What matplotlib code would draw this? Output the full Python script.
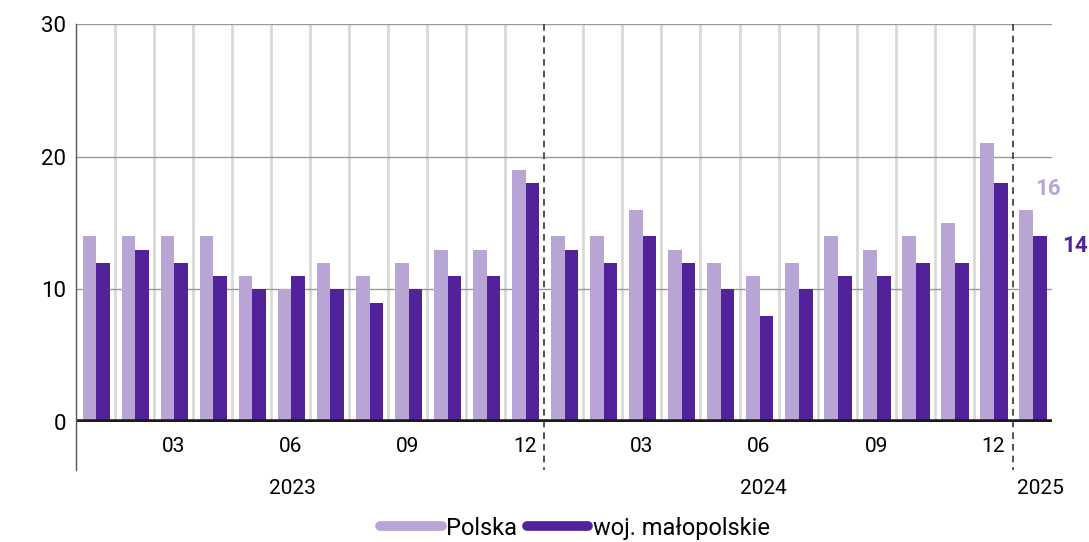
import matplotlib
matplotlib.use("Agg")
import matplotlib.pyplot as plt
from matplotlib.lines import Line2D
import numpy as np

plt.rcParams['font.family'] = ['Roboto', 'DejaVu Sans']

# monthly values, Jan 2023 .. Jan 2025
polska = [14, 14, 14, 14, 11, 10, 12, 11, 12, 13, 13, 19,
          14, 14, 16, 13, 12, 11, 12, 14, 13, 14, 15, 21,
          16]
malopolskie = [12, 13, 12, 11, 10, 11, 10, 9, 10, 11, 11, 18,
               13, 12, 14, 12, 10, 8, 10, 11, 11, 12, 12, 18,
               14]
month_labels = ['', '', '03', '', '', '06', '', '', '09', '', '', '12',
                '', '', '03', '', '', '06', '', '', '09', '', '', '12',
                '']
years = ['2023', '2024', '2025']
year_pos = [5.05, 17.1, 24.2]
series_names = ['Polska', 'woj. małopolskie']

c_light = '#b8a5d6'
c_dark = '#52229a'

fig = plt.figure(figsize=(10.89, 5.42), dpi=100)
ax = fig.add_axes([0.0698, 0.2214, 0.896, 0.7343])

x = np.arange(len(polska))
w = 0.35
ax.bar(x - w / 2 + 0.02, polska, w, color=c_light, zorder=3)
ax.bar(x + w / 2 + 0.02, malopolskie, w, color=c_dark, zorder=3)

ax.set_xlim(-0.5, len(polska) - 0.5)
ax.set_ylim(0, 30)

# light vertical separators between months
for b in np.arange(0.5, len(polska) - 0.5):
    if b in (11.5, 23.5):
        continue
    ax.axvline(b, color='#d9d9d9', lw=2, zorder=1)

# horizontal gridlines
for v in (10, 20, 30):
    ax.axhline(v, color='#9a9a9a', lw=1, zorder=2)
ax.axhline(0, color='#1a1a1a', lw=4, zorder=4)

# year separators, reaching below the axis
for b in (11.5, 23.5):
    ax.plot([b, b], [30, -3.6], color='#333333', lw=1.2, ls=(0, (4, 3)),
            clip_on=False, zorder=5)
ax.plot([-0.5, -0.5], [30, -3.6], color='#555555', lw=1, clip_on=False, zorder=5)

for s in ax.spines.values():
    s.set_visible(False)

ax.set_yticks([0, 10, 20, 30])
ax.tick_params(axis='y', length=0, labelsize=16, pad=7)
ax.set_xticks(x)
ax.set_xticklabels(month_labels)
ax.tick_params(axis='x', length=0, labelsize=15, pad=11)

for lab, p in zip(years, year_pos):
    ax.text(p, -5.0, lab, ha='center', va='center', fontsize=15,
            transform=ax.transData, clip_on=False)

# last-value labels
ax.text(24.4, 17.6, str(polska[-1]), color=c_light, fontsize=16,
        fontweight='bold', ha='center', va='center', clip_on=False)
ax.text(25.1, 13.3, str(malopolskie[-1]), color=c_dark, fontsize=16,
        fontweight='bold', ha='center', va='center', clip_on=False)

handles = [Line2D([0], [0], color=c_light, lw=7, solid_capstyle='round'),
           Line2D([0], [0], color=c_dark, lw=7, solid_capstyle='round')]
fig.legend(handles, series_names, loc='lower center', ncol=2, frameon=False,
           bbox_to_anchor=(0.528, -0.035), fontsize=17, handlelength=2.6,
           handletextpad=0.2, columnspacing=0.4)

fig.savefig('out.png', dpi=100)
